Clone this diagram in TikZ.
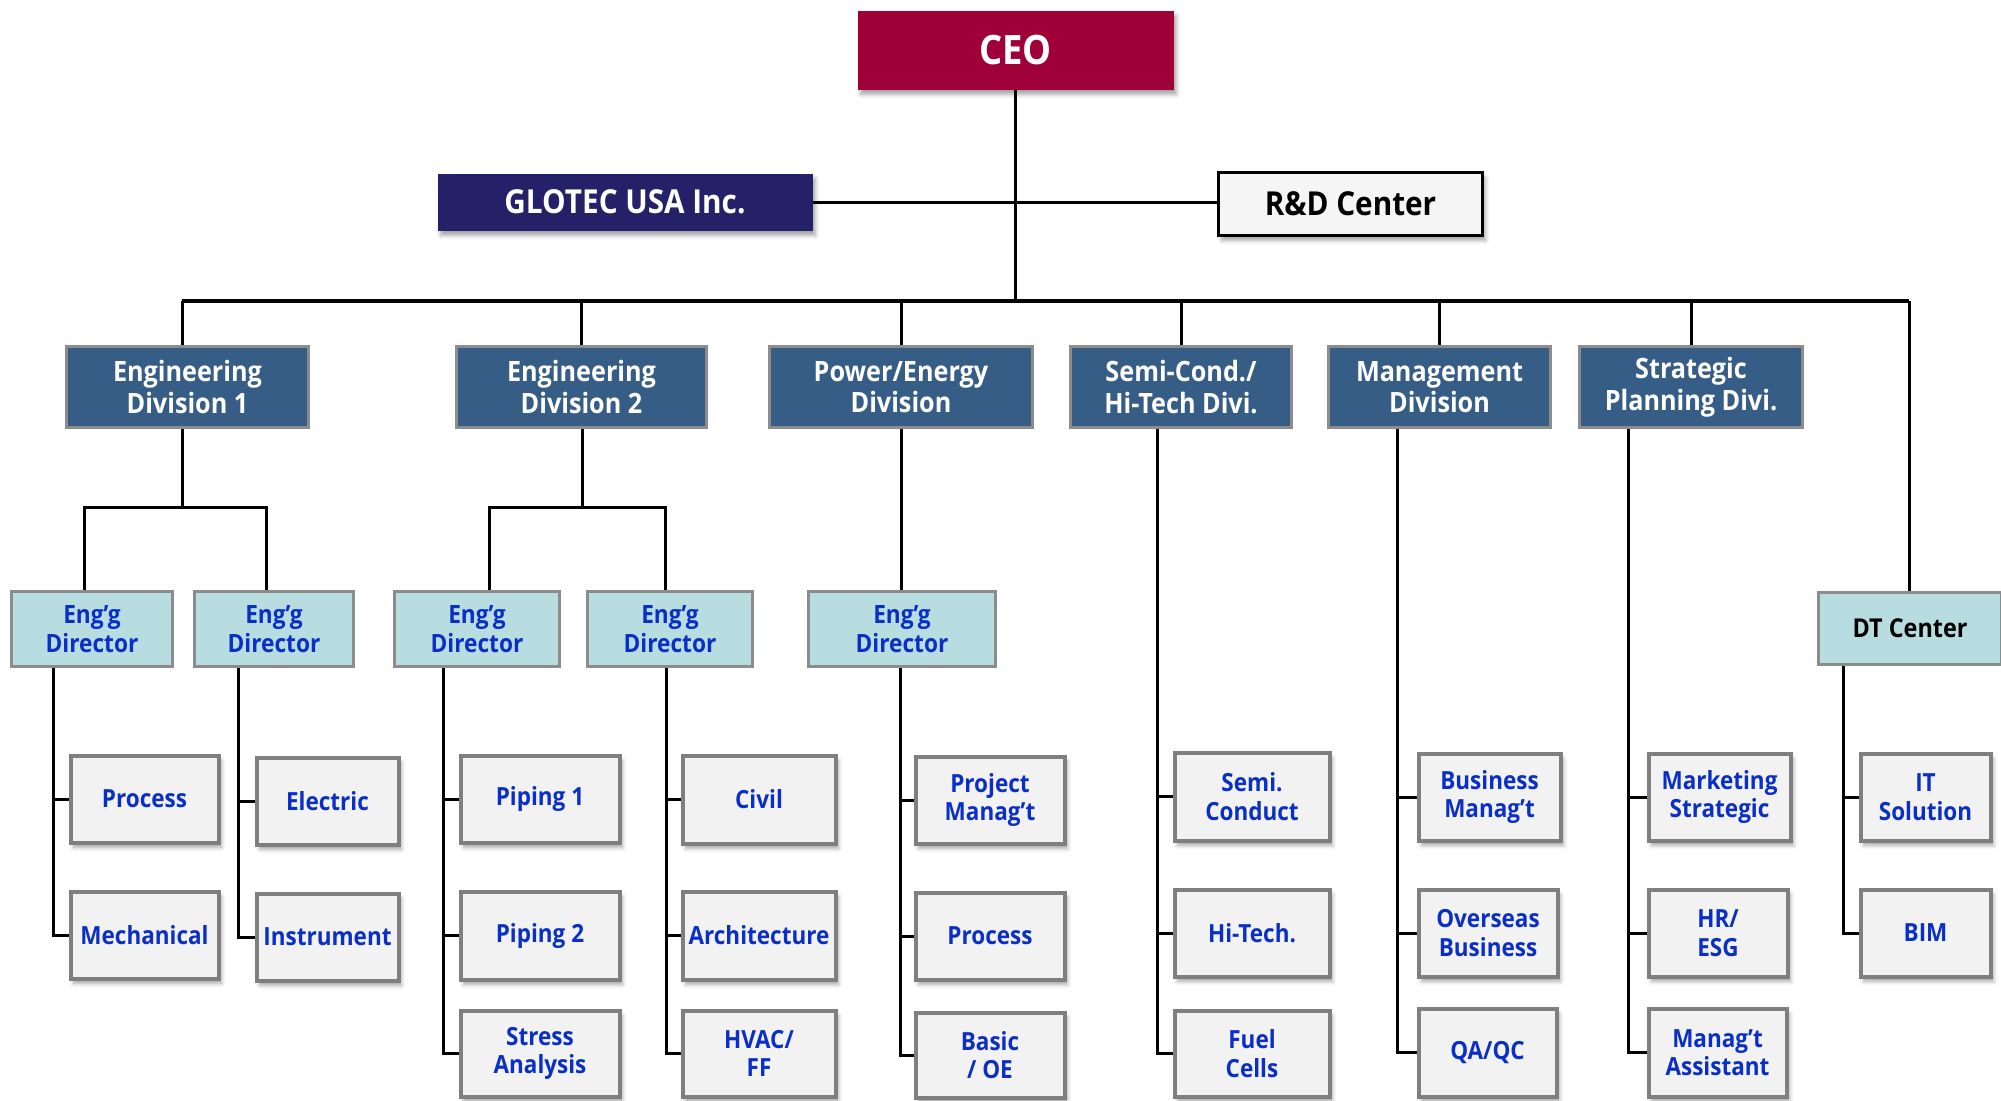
\documentclass[tikz,border=0pt]{standalone}
\usepackage{fontspec}
\setmainfont{Open Sans}[FakeStretch=0.9]
\usetikzlibrary{shadows.blur}
\definecolor{ceoC}{RGB}{160,0,56}
\definecolor{usaC}{RGB}{36,33,104}
\definecolor{divC}{RGB}{54,93,134}
\definecolor{divB}{RGB}{140,140,140}
\definecolor{dirC}{RGB}{184,221,224}
\definecolor{leafF}{RGB}{242,242,242}
\definecolor{leafB}{RGB}{127,127,127}
\definecolor{txtB}{RGB}{10,47,200}
\definecolor{rdF}{RGB}{245,245,245}
\newcommand\bx[7]{\node[#2, minimum width={(#5-#3-3)*1pt}, minimum height={(#6-#4-3)*1pt}] (#1) at ({(#3+#5)/2},{(#4+#6)/2}) {#7};}
\tikzset{
  shd/.style={blur shadow={shadow xshift=3pt, shadow yshift=-5pt, shadow blur radius=4pt, shadow opacity=35}},
  ceobox/.style={fill=ceoC, text=white, font=\fontsize{40.5}{44}\selectfont\bfseries, inner sep=0pt, shd},
  usabox/.style={fill=usaC, text=white, font=\fontsize{33}{36}\selectfont\bfseries, inner sep=0pt, shd},
  rdbox/.style={fill=rdF, draw=black, line width=2.5pt, text=black, font=\fontsize{33}{36}\selectfont\bfseries, inner sep=0pt, shd},
  divbox/.style={fill=divC, draw=divB, line width=3pt, text=white, align=center, font=\fontsize{28}{31.5}\selectfont\bfseries, inner sep=0pt},
  dirbox/.style={fill=dirC, draw=divB, line width=3pt, text=txtB, align=center, font=\fontsize{25.2}{28.5}\selectfont\bfseries, inner sep=0pt},
  dtbox/.style={dirbox, text=black, font=\fontsize{26}{28.5}\selectfont\bfseries},
  leafbox/.style={fill=leafF, draw=leafB, line width=4pt, text=txtB, align=center, font=\fontsize{25}{28.5}\selectfont\bfseries, inner sep=0pt, shd},
  conn/.style={draw=black, line width=3pt},
  bus/.style={draw=black, line width=3.5pt}
}
\begin{document}
\begin{tikzpicture}[x=1pt,y=-1pt]
\useasboundingbox (0,0) rectangle (2001,1100);
% top
\bx{ceo}{ceobox}{856}{9}{1175}{91}{CEO}
\bx{usa}{usabox}{436}{172}{814}{232}{GLOTEC USA Inc.}
\bx{rd}{rdbox}{1217}{171}{1484}{237}{R\&D Center}
% divisions
\bx{d1}{divbox}{65}{345}{310}{429}{Engineering\\Division 1}
\bx{d2}{divbox}{455}{345}{708}{429}{Engineering\\Division 2}
\bx{d3}{divbox}{768}{345}{1034}{429}{Power/Energy\\Division}
\bx{d4}{divbox}{1069}{345}{1293}{429}{Semi-Cond./\\Hi-Tech Divi.}
\bx{d5}{divbox}{1327}{345}{1552}{429}{Management\\Division}
\bx{d6}{divbox}{1578}{345}{1804}{429}{Strategic\\Planning Divi.}
% directors
\bx{r1}{dirbox}{10}{590}{174}{668}{Eng’g\\Director}
\bx{r2}{dirbox}{193}{590}{355}{668}{Eng’g\\Director}
\bx{r3}{dirbox}{393}{590}{561}{668}{Eng’g\\Director}
\bx{r4}{dirbox}{586}{590}{754}{668}{Eng’g\\Director}
\bx{r5}{dirbox}{807}{590}{997}{668}{Eng’g\\Director}
\bx{dt}{dtbox}{1817}{591}{2003}{666}{DT Center}
% leaves
\bx{a1}{leafbox}{69}{754}{220}{844}{Process}
\bx{a2}{leafbox}{69}{890}{220}{980}{Mechanical}
\bx{b1}{leafbox}{255}{756}{400}{846}{Electric}
\bx{b2}{leafbox}{255}{892}{400}{982}{Instrument}
\bx{c1}{leafbox}{459}{754}{621}{844}{Piping 1}
\bx{c2}{leafbox}{459}{890}{621}{981}{Piping 2}
\bx{c3}{leafbox}{459}{1009}{621}{1098}{Stress\\Analysis}
\bx{e1}{leafbox}{681}{754}{837}{845}{Civil}
\bx{e2}{leafbox}{681}{890}{837}{981}{Architecture}
\bx{e3}{leafbox}{681}{1009}{837}{1098}{HVAC/\\FF}
\bx{f1}{leafbox}{914}{755}{1066}{845}{Project\\Manag’t}
\bx{f2}{leafbox}{914}{891}{1066}{981}{Process}
\bx{f3}{leafbox}{914}{1011}{1066}{1099}{Basic\\/ OE}
\bx{g1}{leafbox}{1173}{751}{1331}{842}{Semi.\\Conduct}
\bx{g2}{leafbox}{1173}{888}{1331}{978}{Hi-Tech.}
\bx{g3}{leafbox}{1173}{1009}{1331}{1098}{Fuel\\Cells}
\bx{h1}{leafbox}{1417}{752}{1562}{842}{Business\\Manag’t}
\bx{h2}{leafbox}{1417}{888}{1559}{978}{Overseas\\Business}
\bx{h3}{leafbox}{1417}{1007}{1558}{1098}{QA/QC}
\bx{i1}{leafbox}{1647}{752}{1792}{842}{Marketing\\Strategic}
\bx{i2}{leafbox}{1647}{888}{1789}{978}{HR/\\ESG}
\bx{i3}{leafbox}{1647}{1007}{1788}{1098}{Manag’t\\Assistant}
\bx{j1}{leafbox}{1859}{752}{1992}{842}{IT\\Solution}
\bx{j2}{leafbox}{1859}{888}{1992}{978}{BIM}
% top connectors
\coordinate (busc) at (1015,301);
\coordinate (busL) at (182,301);
\coordinate (busR) at (1909,301);
\draw[conn] (ceo.south -| busc) -- (busc);
\draw[conn] (usa.east) -- (usa.east -| rd.west);
\draw[bus] (busL) -- (busR);
\draw[conn] (busL) -- (d1.north -| busL);
\draw[conn] (d2.north |- busc) -- (d2.north);
\draw[conn] (d3.north |- busc) -- (d3.north);
\draw[conn] (d4.north |- busc) -- (d4.north);
\draw[conn] (d5.north |- busc) -- (d5.north);
\draw[conn] (d6.north |- busc) -- (d6.north);
\draw[conn] (busR) -- (dt.north -| busR);
% div 1 and 2 forks
\coordinate (s1) at (182,507);
\draw[conn] (d1.south -| s1) -- (s1);
\draw[conn] (r1.north -| 84,0) |- (s1) -| (r2.north -| 266,0);
\coordinate (s2) at (582,507);
\draw[conn] (d2.south -| s2) -- (s2);
\draw[conn] (r3.north -| 489,0) |- (s2) -| (r4.north -| 665,0);
\draw[conn] (d3.south -| 901,0) -- (r5.north -| 901,0);
% trunks
\draw[conn] (r1.south -| 53,0) |- (a2.west);  \draw[conn] (a1.west -| 53,0) -- (a1.west);
\draw[conn] (r2.south -| 238,0) |- (b2.west); \draw[conn] (b1.west -| 238,0) -- (b1.west);
\draw[conn] (r3.south -| 443,0) |- (c3.west); \draw[conn] (c1.west -| 443,0) -- (c1.west); \draw[conn] (c2.west -| 443,0) -- (c2.west);
\draw[conn] (r4.south -| 666,0) |- (e3.west); \draw[conn] (e1.west -| 666,0) -- (e1.west); \draw[conn] (e2.west -| 666,0) -- (e2.west);
\draw[conn] (r5.south -| 900,0) |- (f3.west); \draw[conn] (f1.west -| 900,0) -- (f1.west); \draw[conn] (f2.west -| 900,0) -- (f2.west);
\draw[conn] (d4.south -| 1157,0) |- (g3.west); \draw[conn] (g1.west -| 1157,0) -- (g1.west); \draw[conn] (g2.west -| 1157,0) -- (g2.west);
\draw[conn] (d5.south -| 1397,0) |- (h3.west); \draw[conn] (h1.west -| 1397,0) -- (h1.west); \draw[conn] (h2.west -| 1397,0) -- (h2.west);
\draw[conn] (d6.south -| 1628,0) |- (i3.west); \draw[conn] (i1.west -| 1628,0) -- (i1.west); \draw[conn] (i2.west -| 1628,0) -- (i2.west);
\draw[conn] (dt.south -| 1843,0) |- (j2.west); \draw[conn] (j1.west -| 1843,0) -- (j1.west);
\end{tikzpicture}
\end{document}
